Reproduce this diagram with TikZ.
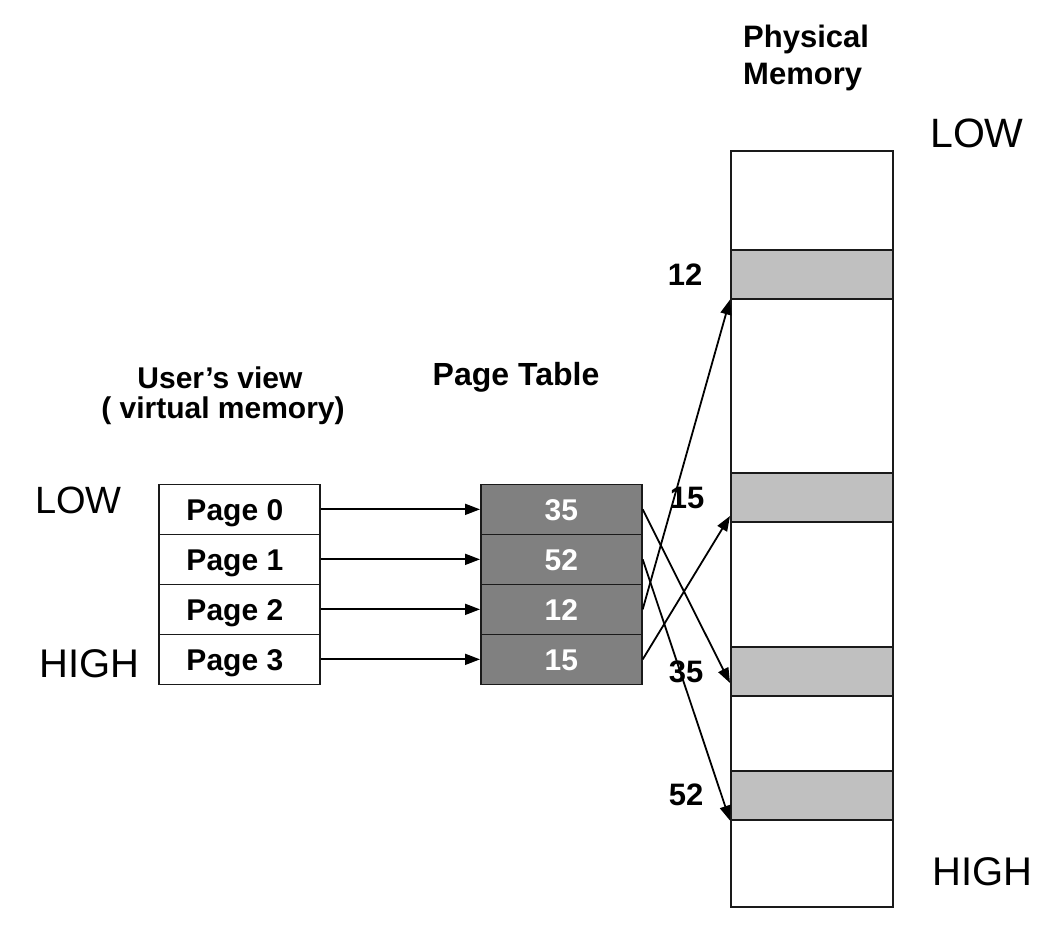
\documentclass[tikz,border=0pt]{standalone}
\usepackage{fontspec}
\setmainfont{Liberation Sans}
\usetikzlibrary{arrows.meta}
\definecolor{ptgray}{HTML}{808080}
\definecolor{bandgray}{HTML}{C0C0C0}
\definecolor{edge}{HTML}{1A1A1A}
\begin{document}
\begin{tikzpicture}[x=1pt,y=-1pt,
  cell/.style={draw=edge, line width=1.7pt, minimum width=161pt, minimum height=50pt, inner sep=0pt, anchor=north west, text height=26pt, text depth=3pt},
  vpage/.style={cell, fill=white, font=\bfseries\fontsize{30}{36}\selectfont, execute at end node={\hspace{9pt}}},
  ptrow/.style={cell, fill=ptgray, text=white, font=\bfseries\fontsize{30}{36}\selectfont},
  band/.style={draw=edge, line width=1.6pt, fill=bandgray, minimum width=162pt, minimum height=49pt, inner sep=0pt, anchor=north west},
  arr/.style={line width=1.8pt, -{Triangle[length=15pt,width=11pt]}},
  frame/.style={font=\bfseries\fontsize{31}{37}\selectfont, inner sep=0pt},
  title/.style={font=\bfseries\fontsize{30}{36}\selectfont, inner sep=0pt},
  endlbl/.style={inner sep=0pt, anchor=base west}]
\useasboundingbox (0,0) rectangle (1060,928);

% titles
\node[title, anchor=base] (uv1) at (220,388) {User’s view};
\node[title, anchor=base] (uv2) at (223,418) {( virtual memory)};
\node[title, anchor=base, font=\bfseries\fontsize{32}{38}\selectfont] (ptt) at (516,385) {Page Table};
\node[title, anchor=base west, font=\bfseries\fontsize{31}{37}\selectfont] (pm1) at (743,48) {Physical};
\node[title, anchor=base west, font=\bfseries\fontsize{31}{37}\selectfont] (pm2) at (743,85) {Memory};

% virtual pages
\node[vpage] (p0) at (158,483.5) {Page 0};
\node[vpage] (p1) at (158,533.5) {Page 1};
\node[vpage] (p2) at (158,583.5) {Page 2};
\node[vpage] (p3) at (158,633.5) {Page 3};
\node[endlbl, font=\fontsize{38}{45}\selectfont] (vlow) at (35,513) {LOW};
\node[endlbl, font=\fontsize{40}{48}\selectfont] (vhigh) at (39,677) {HIGH};

% page table
\node[ptrow] (t0) at (480,483.5) {35};
\node[ptrow] (t1) at (480,533.5) {52};
\node[ptrow] (t2) at (480,583.5) {12};
\node[ptrow] (t3) at (480,633.5) {15};

% physical memory
\node[draw=edge, line width=1.7pt, fill=white, minimum width=162pt, minimum height=756pt, inner sep=0pt, anchor=north west] (phys) at (730,150) {};
\node[band] (m12) at (730,249) {};
\node[band] (m15) at (730,472) {};
\node[band] (m35) at (730,646) {};
\node[band] (m52) at (730,770) {};
\node[endlbl, font=\fontsize{41}{49}\selectfont] (plow) at (930,148) {LOW};
\node[endlbl, font=\fontsize{40}{48}\selectfont] (phigh) at (932,885) {HIGH};

% frame labels
\node[frame] (l12) at (685,275) {12};
\node[frame] (l15) at (687,498) {15};
\node[frame] (l35) at (686,672) {35};
\node[frame] (l52) at (686,795) {52};

\coordinate (e35) at (730,683);
\coordinate (e15) at (730,516);

% arrows
\draw[arr] (p0.east) -- (t0.west);
\draw[arr] (p1.east) -- (t1.west);
\draw[arr] (p2.east) -- (t2.west);
\draw[arr] (p3.east) -- (t3.west);
\draw[arr] (t0.east) -- (e35);
\draw[arr] (t1.east) -- (m52.south west);
\draw[arr] (t2.east) -- (m12.south west);
\draw[arr] (t3.east) -- (e15);
\end{tikzpicture}
\end{document}
